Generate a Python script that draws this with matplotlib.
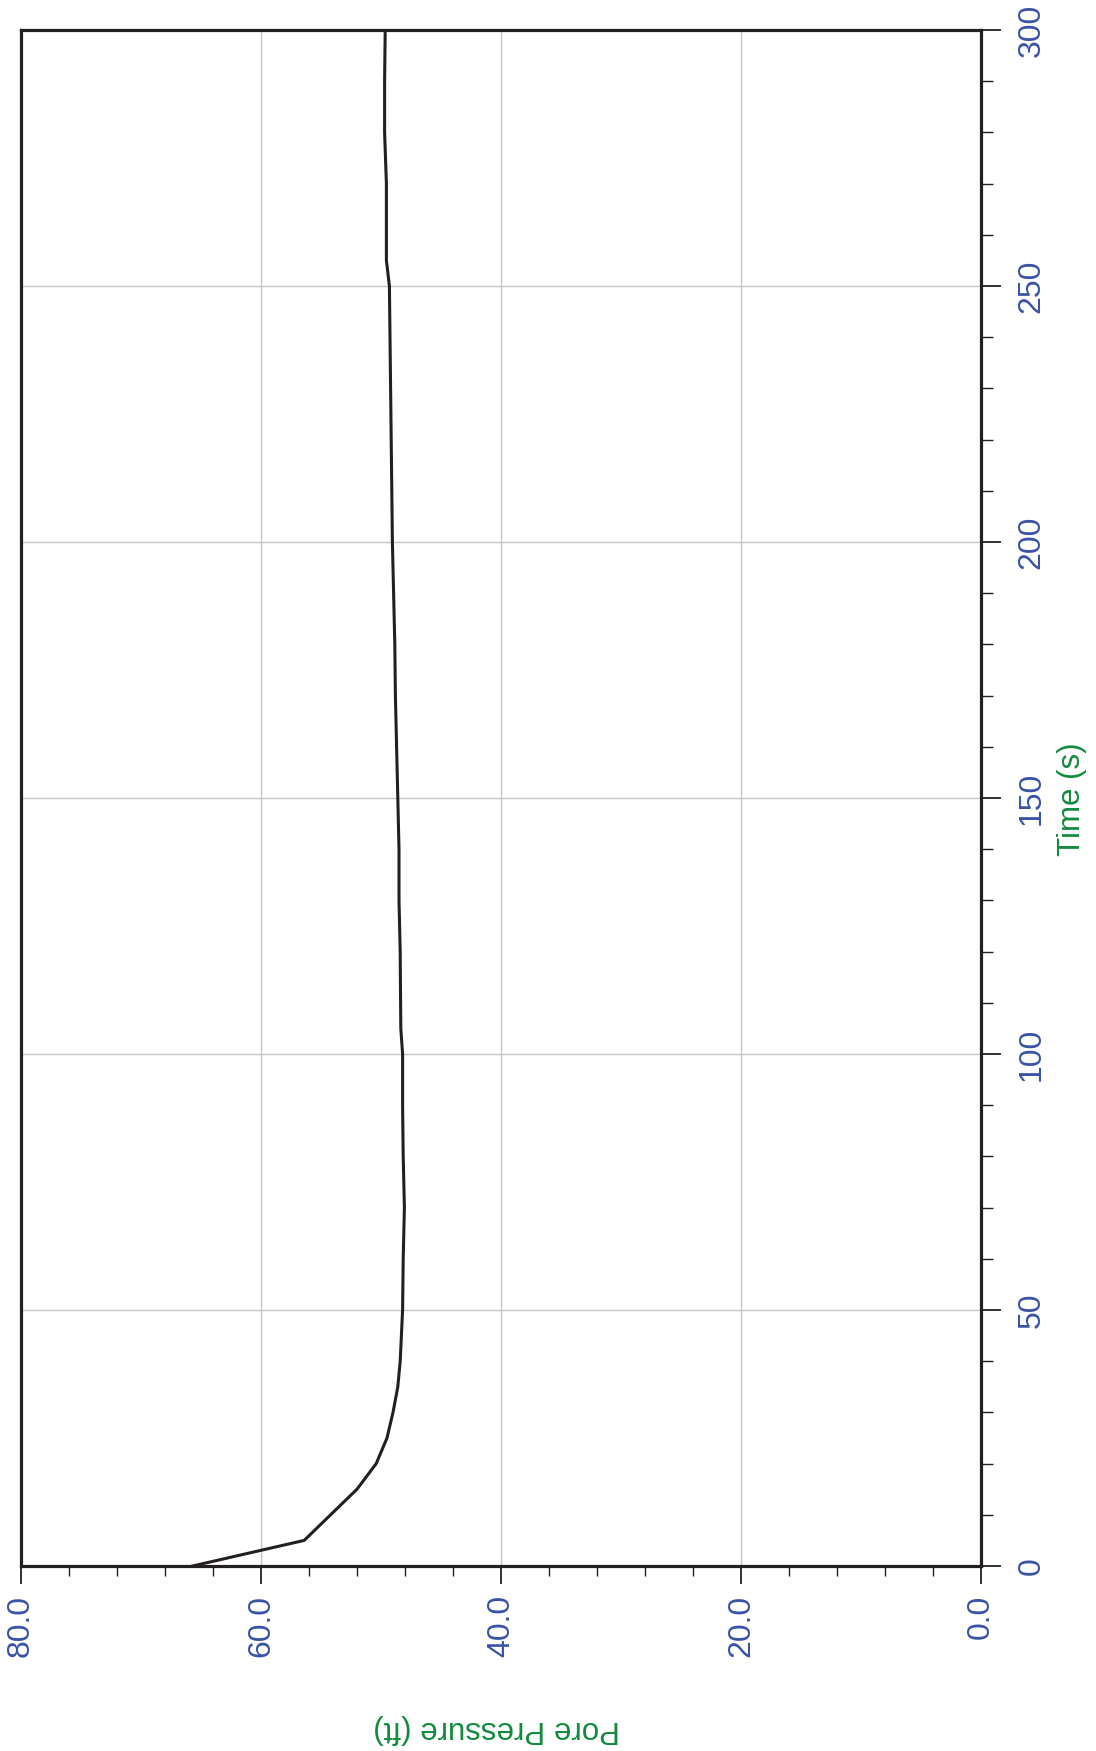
import numpy as np
import matplotlib.pyplot as plt
from matplotlib.ticker import MultipleLocator, FormatStrFormatter

# Pore pressure (ft) vs time (s), drawn rotated: time runs up the right side
time_s = [0, 5, 15, 20, 25, 30, 35, 40, 45, 50, 60, 70, 80, 90, 100, 105,
          120, 130, 140, 150, 160, 170, 180, 190, 200, 210, 220, 230, 240,
          250, 255, 260, 270, 280, 290, 300]
pressure_ft = [65.7, 56.4, 52.0, 50.4, 49.5, 49.0, 48.6, 48.4, 48.3, 48.2,
               48.15, 48.05, 48.15, 48.2, 48.2, 48.35, 48.4, 48.5, 48.5,
               48.6, 48.7, 48.8, 48.85, 48.95, 49.05, 49.1, 49.15, 49.2,
               49.25, 49.3, 49.55, 49.55, 49.55, 49.7, 49.7, 49.65]

time_ticks = [0, 50, 100, 150, 200, 250, 300]
pressure_ticks = [0.0, 20.0, 40.0, 60.0, 80.0]

tick_color = '#3a52a4'
label_color = '#128a3e'
ink = '#231f20'

plt.rcParams['font.family'] = ['Liberation Sans', 'DejaVu Sans']

fig = plt.figure(figsize=(10.96, 17.51), dpi=100)
ax = fig.add_axes([21 / 1096, 1 - 1566 / 1751, 960 / 1096, 1536 / 1751])

ax.plot(pressure_ft, time_s, color=ink, lw=2.2, zorder=3)

ax.set_xlim(80, 0)
ax.set_ylim(0, 300)
ax.set_xticks(pressure_ticks)
ax.set_yticks(time_ticks)
ax.xaxis.set_minor_locator(MultipleLocator(4))
ax.yaxis.set_minor_locator(MultipleLocator(10))
ax.xaxis.set_major_formatter(FormatStrFormatter('%.1f'))
ax.yaxis.tick_right()

ax.grid(True, which='major', color='#c6c6c6', lw=1.0, zorder=0)

for sp in ax.spines.values():
    sp.set_linewidth(2.3)
    sp.set_color(ink)

ax.tick_params(axis='x', which='major', length=13, width=1.3, color=ink,
               pad=8, labelsize=23, labelcolor=tick_color, labelrotation=90)
ax.tick_params(axis='x', which='minor', length=7, width=1.0, color=ink)
ax.tick_params(axis='y', which='major', length=14.5, width=1.3, color=ink,
               pad=11, labelsize=23, labelcolor=tick_color, labelrotation=90)
ax.tick_params(axis='y', which='minor', length=8.5, width=1.0, color=ink)

for lbl in ax.get_xticklabels():
    lbl.set_va('top')
    lbl.set_ha('center')
for lbl in ax.get_yticklabels():
    lbl.set_ha('left')
    lbl.set_va('center')

fig.text(1072 / 1096, 1 - 799 / 1751, 'Time (s)', rotation=90,
         ha='center', va='center', fontsize=22.5, color=label_color)
fig.text(497 / 1096, 1 - 1729 / 1751, 'Pore Pressure (ft)', rotation=180,
         ha='center', va='center', fontsize=22.5, color=label_color)

fig.savefig('out.png', dpi=100)
